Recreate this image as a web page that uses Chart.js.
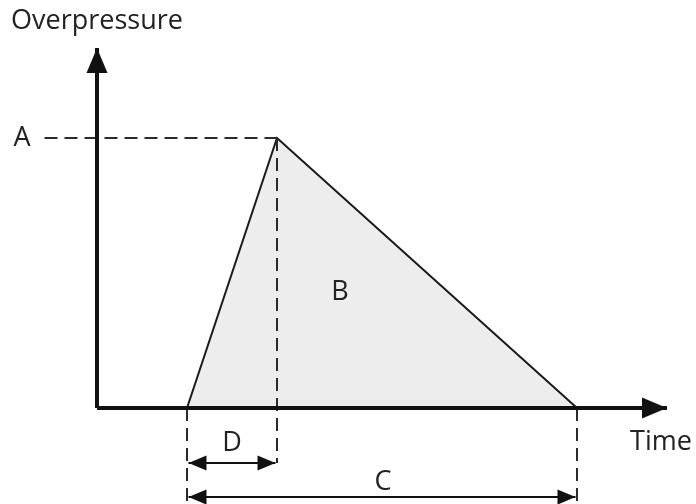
<!DOCTYPE html>
<html>
<head>
<meta charset="utf-8">
<script src="https://cdn.jsdelivr.net/npm/chart.js@4.4.1/dist/chart.umd.min.js"></script>
<style>
  html, body { margin: 0; padding: 0; background: #fff; }
  #wrap { width: 696px; height: 504px; position: relative; }
</style>
</head>
<body>
<div id="wrap"><canvas id="chart"></canvas></div>
<script>
'use strict';

// Pulse shape (time units, overpressure units)
const pulseTimes = [3, 6, 16];
const pulsePressures = [0, 9, 0];

// Axis extents
const timeAxisEnd = 19;
const pressureAxisEnd = 12;

// Dimension guides
const guideLeft = -1.75;
const dArrowLevel = -1.83;
const cArrowLevel = -2.97;
const guideBottom = -3.2;

// Labels: [text, x, y]
const annotations = [
  ['A', -2.5, 9],
  ['B', 8.1, 3.87],
  ['D', 4.5, -1.17],
  ['C', 9.53, -2.47],
  ['Time', 18.8, -1.13],
  ['Overpressure', 0, 12.9]
];

const INK = '#111';
const pts = (xs, ys) => xs.map((x, i) => ({x, y: ys[i]}));

// arrow heads at the ends of lines tagged with `arrows`, plus the text labels
const arrowPlugin = {
  id: 'arrows',
  afterDatasetsDraw(chart) {
    const {ctx, scales: {x, y}} = chart;
    chart.data.datasets.forEach(ds => {
      if (!ds.arrows) return;
      const d = ds.data;
      const head = (from, to, len, half) => {
        const x0 = x.getPixelForValue(from.x), y0 = y.getPixelForValue(from.y);
        const x1 = x.getPixelForValue(to.x), y1 = y.getPixelForValue(to.y);
        const a = Math.atan2(y1 - y0, x1 - x0);
        ctx.save();
        ctx.fillStyle = INK;
        ctx.translate(x1, y1);
        ctx.rotate(a);
        ctx.beginPath();
        ctx.moveTo(0, 0);
        ctx.lineTo(-len, -half);
        ctx.lineTo(-len, half);
        ctx.closePath();
        ctx.fill();
        ctx.restore();
      };
      const [len, half] = ds.arrowSize;
      if (ds.arrows.includes('end')) head(d[d.length - 2], d[d.length - 1], len, half);
      if (ds.arrows.includes('start')) head(d[1], d[0], len, half);
    });

    ctx.save();
    ctx.fillStyle = '#222';
    ctx.font = '27px "Open Sans", sans-serif';
    ctx.textAlign = 'center';
    ctx.textBaseline = 'middle';
    annotations.forEach(([t, tx, ty]) => {
      ctx.fillText(t, x.getPixelForValue(tx), y.getPixelForValue(ty));
    });
    ctx.restore();
  }
};

const lineDs = (data, extra) => Object.assign({
  data,
  showLine: true,
  borderColor: INK,
  borderWidth: 1.5,
  pointRadius: 0,
  fill: false,
  tension: 0,
  order: 1
}, extra);

const dashed = {borderDash: [13, 7], borderWidth: 2, borderColor: '#2a2a2a'};

new Chart(document.getElementById('chart'), {
  type: 'scatter',
  data: {
    datasets: [
      lineDs(pts(pulseTimes, pulsePressures), {
        fill: 'origin',
        backgroundColor: '#ededed',
        borderColor: '#1a1a1a',
        borderWidth: 2,
        order: 10
      }),
      lineDs(pts([guideLeft, pulseTimes[1]], [pulsePressures[1], pulsePressures[1]]), dashed),
      lineDs(pts([pulseTimes[1], pulseTimes[1]], [pulsePressures[1], dArrowLevel]), dashed),
      lineDs(pts([pulseTimes[0], pulseTimes[0]], [0, guideBottom]), dashed),
      lineDs(pts([pulseTimes[2], pulseTimes[2]], [0, guideBottom]), dashed),
      lineDs(pts([pulseTimes[0] + 0.05, pulseTimes[1] - 0.05], [dArrowLevel, dArrowLevel]), {
        borderWidth: 2, arrows: ['start', 'end'], arrowSize: [18, 7.5]
      }),
      lineDs(pts([pulseTimes[0] + 0.05, pulseTimes[2] - 0.05], [cArrowLevel, cArrowLevel]), {
        borderWidth: 2, arrows: ['start', 'end'], arrowSize: [18, 7.5]
      }),
      lineDs(pts([0, timeAxisEnd], [0, 0]), {
        borderWidth: 4, arrows: ['end'], arrowSize: [25, 10.5], order: 0
      }),
      lineDs(pts([0, 0], [0, pressureAxisEnd]), {
        borderWidth: 4, arrows: ['end'], arrowSize: [25, 10.5], order: 0
      })
    ]
  },
  options: {
    responsive: true,
    maintainAspectRatio: false,
    animation: false,
    layout: {padding: 0},
    scales: {
      x: {type: 'linear', display: false, min: -97 / 30, max: 599 / 30},
      y: {type: 'linear', display: false, min: -96 / 30, max: 408 / 30}
    },
    plugins: {
      legend: {display: false},
      tooltip: {enabled: false}
    }
  },
  plugins: [arrowPlugin]
});
</script>
</body>
</html>
